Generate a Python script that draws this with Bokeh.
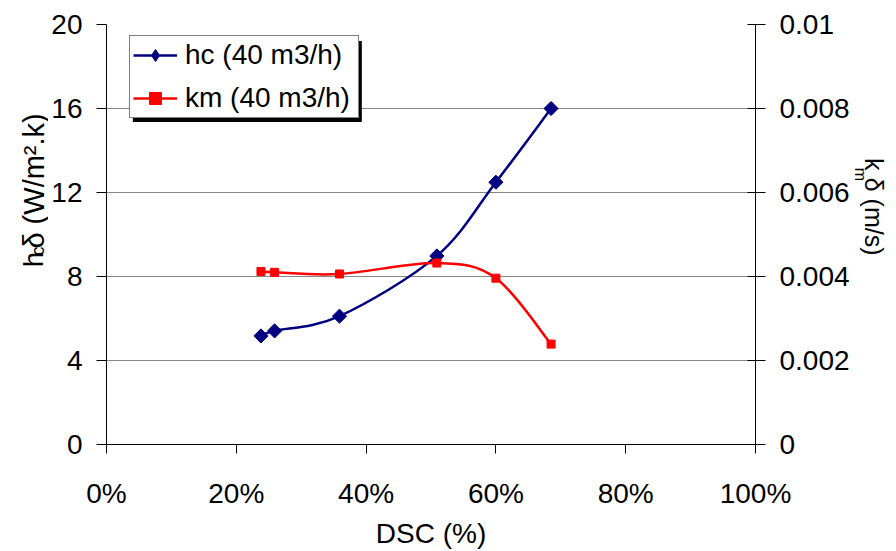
import math
from bokeh.plotting import figure
from bokeh.layouts import row
from bokeh.core.properties import value
from bokeh.models import (Range1d, LinearAxis, FixedTicker, Legend, LegendItem,
                          BoxAnnotation, ColumnDataSource)
from bokeh.embed import file_html
from bokeh.resources import INLINE

# ---- data ----
dsc = [23.8, 25.9, 35.9, 50.9, 60.0, 68.5]          # DSC (%)
hc = [5.17, 5.41, 6.11, 8.98, 12.49, 16.0]          # hc delta (W/m2.k)
km = [0.00412, 0.00410, 0.00406, 0.00432, 0.00396, 0.00239]  # km delta (m/s)

x_ticks = [0, 20, 40, 60, 80, 100]
x_tick_labels = ["0%", "20%", "40%", "60%", "80%", "100%"]
hc_ticks = [0, 4, 8, 12, 16, 20]
km_ticks = [0, 0.002, 0.004, 0.006, 0.008, 0.01]
km_tick_labels = ["0", "0.002", "0.004", "0.006", "0.008", "0.01"]
series_names = ["hc (40 m3/h)", "km (40 m3/h)"]

FONT = "Liberation Sans"
FS = "28px"
NAVY = "#000080"
RED = "#FF0000"

H = 551
LSW, RSW = 48, 44          # widths of the side strips holding the axis titles
W = 896 - LSW - RSW        # main figure width
BL, BR, BT, BB = 104 - LSW, 140 - RSW, 24, 107
FW = W - BL - BR
FH = H - BT - BB

p = figure(width=W, height=H, output_backend="svg", toolbar_location=None,
           x_range=Range1d(x_ticks[0], x_ticks[-1]),
           y_range=Range1d(hc_ticks[0], hc_ticks[-1]),
           min_border_left=BL, min_border_right=BR, min_border_top=BT,
           min_border_bottom=BB)
p.outline_line_color = None
p.background_fill_color = "white"
p.border_fill_color = "white"
p.extra_y_ranges = {"km": Range1d(km_ticks[0], km_ticks[-1])}


def smooth(xs, ys):
    """Bezier control points for an Excel-like smoothed line."""
    n = len(xs)
    d = dict(x0=[], y0=[], x1=[], y1=[], cx0=[], cy0=[], cx1=[], cy1=[])
    for i in range(n - 1):
        a = i - 1 if i > 0 else i
        b = i + 2 if i + 2 < n else i + 1
        d["x0"].append(xs[i]); d["y0"].append(ys[i])
        d["x1"].append(xs[i + 1]); d["y1"].append(ys[i + 1])
        d["cx0"].append(xs[i] + (xs[i + 1] - xs[a]) / 6)
        d["cy0"].append(ys[i] + (ys[i + 1] - ys[a]) / 6)
        d["cx1"].append(xs[i + 1] - (xs[b] - xs[i]) / 6)
        d["cy1"].append(ys[i + 1] - (ys[b] - ys[i]) / 6)
    return ColumnDataSource(d)


p.xaxis.visible = False
p.yaxis.visible = False
p.xgrid.visible = False
p.ygrid.ticker = FixedTicker(ticks=hc_ticks)
p.ygrid.grid_line_color = "#868686"
p.ygrid.grid_line_width = 1


def style_axis(ax):
    ax.axis_line_color = "black"
    ax.axis_line_width = 1
    ax.major_tick_line_color = "black"
    ax.minor_tick_line_color = None
    ax.major_label_text_font = FONT
    ax.major_label_text_font_size = FS
    ax.major_label_text_color = "black"
    ax.axis_label_text_font = FONT
    ax.axis_label_text_font_size = FS
    ax.axis_label_text_font_style = "normal"
    ax.axis_label_text_color = "black"


xax = LinearAxis(ticker=FixedTicker(ticks=x_ticks),
                 major_label_overrides=dict(zip(x_ticks, x_tick_labels)),
                 axis_label="DSC (%)")
style_axis(xax)
xax.major_tick_in = 0
xax.major_tick_out = 9
xax.major_label_standoff = 24
xax.axis_label_standoff = 6
p.add_layout(xax, "below")

lax = LinearAxis(ticker=FixedTicker(ticks=hc_ticks))
style_axis(lax)
lax.major_tick_in = 0
lax.major_tick_out = 10
lax.major_label_standoff = 14
p.add_layout(lax, "left")

rax = LinearAxis(y_range_name="km", ticker=FixedTicker(ticks=km_ticks),
                 major_label_overrides=dict(zip(km_ticks, km_tick_labels)))
style_axis(rax)
rax.major_tick_in = 8
rax.major_tick_out = 10
rax.major_label_standoff = 14
p.add_layout(rax, "right")

hc_curve = p.bezier(x0="x0", y0="y0", x1="x1", y1="y1", cx0="cx0", cy0="cy0",
                    cx1="cx1", cy1="cy1", source=smooth(dsc, hc),
                    line_color=NAVY, line_width=2.5)
hc_pts = p.scatter(dsc, hc, marker="square", angle=math.pi / 4, size=10,
                   fill_color=NAVY, line_color=NAVY)
km_curve = p.bezier(x0="x0", y0="y0", x1="x1", y1="y1", cx0="cx0", cy0="cy0",
                    cx1="cx1", cy1="cy1", source=smooth(dsc, km),
                    line_color=RED, line_width=2.5, y_range_name="km")
km_pts = p.scatter(dsc, km, marker="square", size=8, fill_color=RED,
                   line_color=RED, y_range_name="km")
# legend key only: a diamond with no position in the plot
nan = float("nan")
hc_key = p.scatter([nan], [nan], marker="diamond", size=14, fill_color=NAVY,
                   line_color=NAVY)

# legend with drop shadow (offsets in pixels from the frame's top-left)
LEG_X, LEG_TOP, LEG_W, LEG_H, SH = 23, 13, 230, 81, 3.5
shadow = BoxAnnotation(
    left=(LEG_X + SH) / FW * 100, right=(LEG_X + LEG_W + SH) / FW * 100,
    top=20 - (LEG_TOP + SH) / FH * 20, bottom=20 - (LEG_TOP + LEG_H + SH) / FH * 20,
    fill_color="black", fill_alpha=1, line_color=None)
p.add_layout(shadow)

legend = Legend(items=[LegendItem(label=series_names[0], renderers=[hc_curve, hc_key]),
                       LegendItem(label=series_names[1], renderers=[km_curve, km_pts])],
                location=(LEG_X, FH - LEG_TOP - LEG_H))
legend.label_text_font = FONT
legend.label_text_font_size = FS
legend.label_text_color = "black"
legend.border_line_color = "black"
legend.border_line_width = 1.5
legend.background_fill_color = "white"
legend.background_fill_alpha = 1
legend.glyph_width = 44
legend.glyph_height = 30
legend.label_height = 30
legend.label_width = 170
legend.label_standoff = 8
legend.spacing = 11
legend.padding = 3
legend.margin = 0
p.add_layout(legend)


def strip(width):
    s = figure(width=width, height=H, output_backend="svg", toolbar_location=None,
               x_range=Range1d(0, width), y_range=Range1d(H, 0),
               min_border=0, min_border_left=0, min_border_right=0,
               min_border_top=0, min_border_bottom=0)
    s.axis.visible = False
    s.grid.visible = False
    s.outline_line_color = None
    s.background_fill_color = "white"
    s.border_fill_color = "white"
    return s


def title_piece(s, text, x, y, angle, size):
    s.text(x=[x], y=[y], text=[text], angle=angle, text_font=value(FONT),
           text_font_size=value(size), text_color="black",
           text_align="left", text_baseline="alphabetic")


# left title: h_c δ (W/m².k), reading upward
ls = strip(LSW)
title_piece(ls, "h", 33, 318, math.pi / 2, "27px")
title_piece(ls, "c", 37, 303, math.pi / 2, "18px")
title_piece(ls, "δ (W/m².k)", 33, 294, math.pi / 2, "29px")

# right title: k_m δ (m/s), reading downward
rs = strip(RSW)
title_piece(rs, "k", 21, 175, -math.pi / 2, "25px")
title_piece(rs, "m", 8, 188, -math.pi / 2, "16px")
title_piece(rs, "δ (m/s)", 21, 201, -math.pi / 2, "25px")

layout = row(ls, p, rs, spacing=0)
open("out.html", "w").write(file_html(layout, INLINE))
